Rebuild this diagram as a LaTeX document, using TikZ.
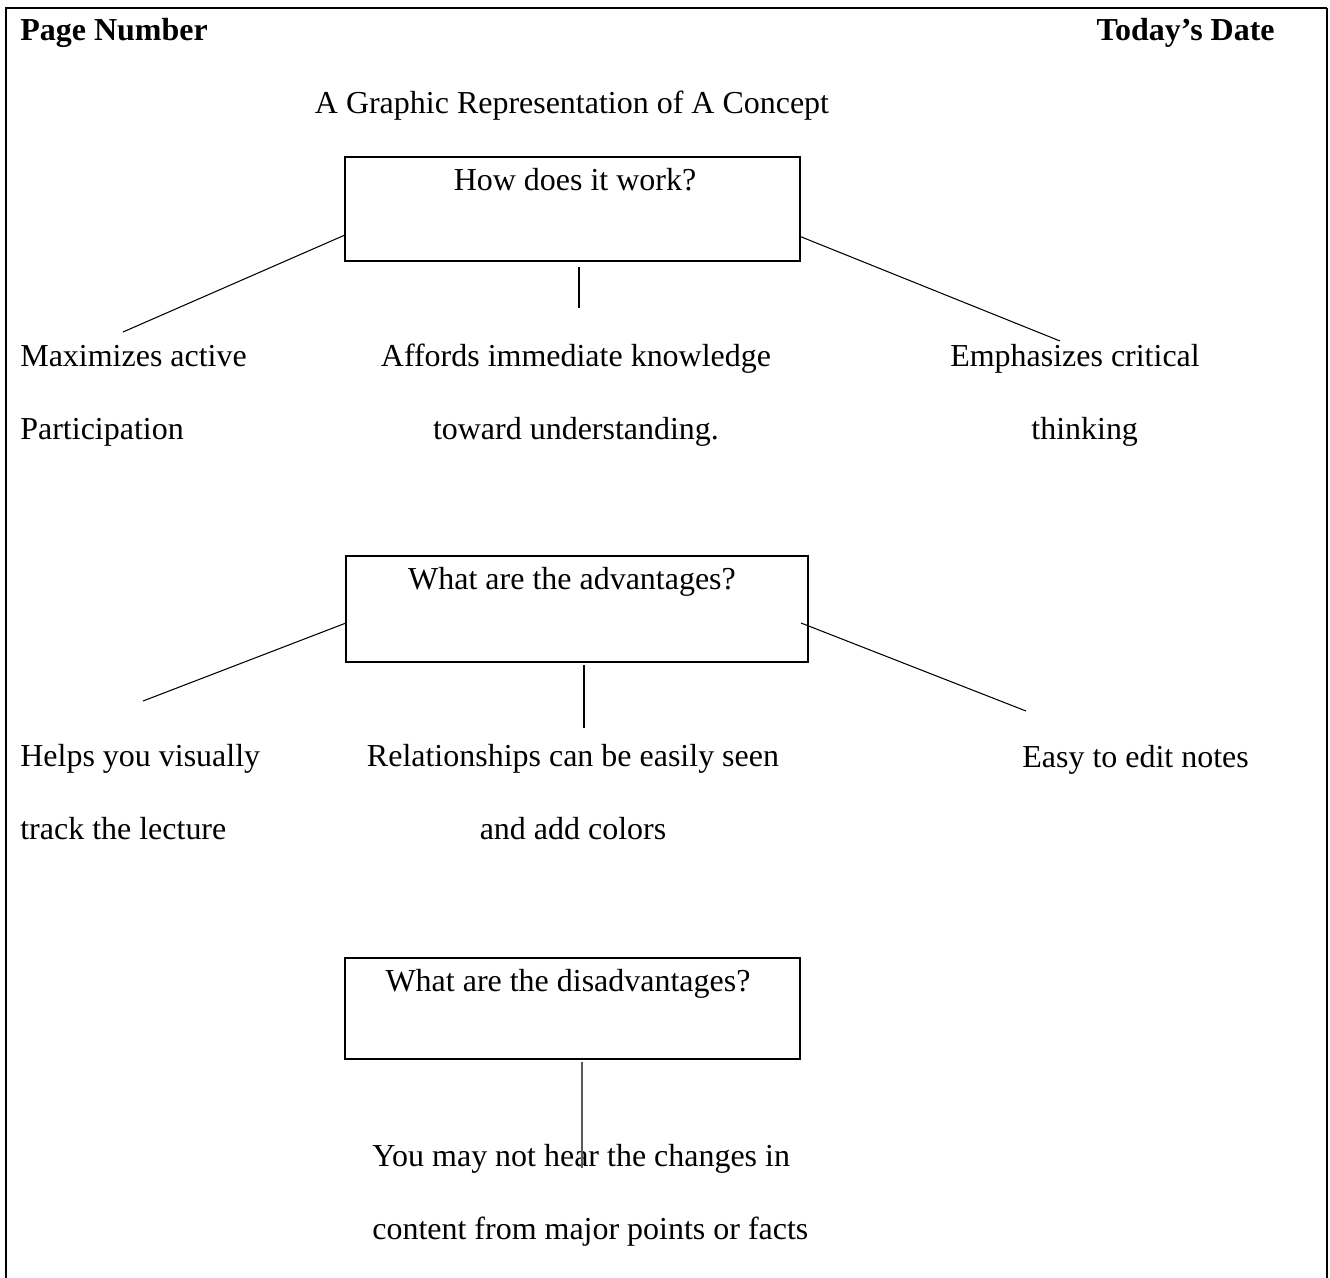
\documentclass[tikz,border=0pt]{standalone}
\usepackage{fontspec}
\setmainfont{Liberation Serif}
\tikzset{
  qbox/.style={draw,line width=1.1pt,inner sep=0pt},
  txt/.style={inner sep=0pt,font=\fontsize{18.2}{41.5}\selectfont},
  twoline/.style={txt,align=center},
  link/.style={line width=0.6pt}
}
\begin{document}
\begin{tikzpicture}[x=0.02cm,y=-0.02cm]
  \useasboundingbox (0,0) rectangle (1330,1278);
  % page frame, open at the bottom
  \draw[line width=1.7pt] (6,1278) -- (6,8) -- (1327,8);
  \draw[line width=0.9pt] (1327,8) -- (1327,1278);

  \node[txt,anchor=base west,font=\fontsize{18.2}{22}\selectfont\bfseries] (page) at (20,40) {Page Number};
  \node[txt,anchor=base east,font=\fontsize{18.2}{22}\selectfont\bfseries] (date) at (1275,40) {Today’s Date};
  \node[txt,anchor=base] (title) at (572,113) {A Graphic Representation of A Concept};

  % first question
  \node[qbox,minimum width=9.1cm,minimum height=2.08cm] (how) at (572.5,209) {};
  \node[txt,anchor=base] (howtxt) at (575,190) {How does it work?};
  \node[twoline,anchor=base west,align=left] (max) at (20,439) {Maximizes active\\Participation};
  \node[twoline,anchor=base] (aff) at (576,439) {Affords immediate knowledge\\toward understanding.};
  \node[twoline,anchor=base] (emp) at (1075,439) {Emphasizes critical\\\hspace*{11pt}thinking};
  \coordinate (howL) at (345,235);
  \coordinate (howR) at (799,236);
  \coordinate (maxE) at (123,332);
  \coordinate (affT) at (579,267);
  \coordinate (affE) at (579,308);
  \coordinate (empE) at (1060,341);
  \draw[link] (howL) -- (maxE);
  \draw[link] (affT) -- (affE);
  \draw[link] (howR) -- (empE);

  % second question
  \node[qbox,minimum width=9.24cm,minimum height=2.12cm] (adv) at (577,609) {};
  \node[txt,anchor=base] (advtxt) at (572,589) {What are the advantages?};
  \node[twoline,anchor=base west,align=left] (help) at (20,839) {Helps you visually\\track the lecture};
  \node[twoline,anchor=base] (rel) at (573,839) {Relationships can be easily seen\\and add colors};
  \node[txt,anchor=base west] (easy) at (1022,767) {Easy to edit notes};
  \coordinate (advL) at (346,623);
  \coordinate (advR) at (801,623);
  \coordinate (helpE) at (143,701);
  \coordinate (relT) at (584,665);
  \coordinate (relE) at (584,728);
  \coordinate (easyE) at (1026,711);
  \draw[link] (advL) -- (helpE);
  \draw[link] (relT) -- (relE);
  \draw[link] (advR) -- (easyE);

  % third question
  \node[qbox,minimum width=9.1cm,minimum height=2.02cm] (dis) at (572.5,1008.5) {};
  \node[txt,anchor=base] (distxt) at (568,991) {What are the disadvantages?};
  \node[twoline,anchor=base west,align=left] (hear) at (372,1239) {You may not hear the changes in\\content from major points or facts};
  \coordinate (hearT) at (582,1062);
  \coordinate (hearE) at (582,1168);
  \draw[line width=1.1pt,black!65] (hearT) -- (hearE);
\end{tikzpicture}
\end{document}
